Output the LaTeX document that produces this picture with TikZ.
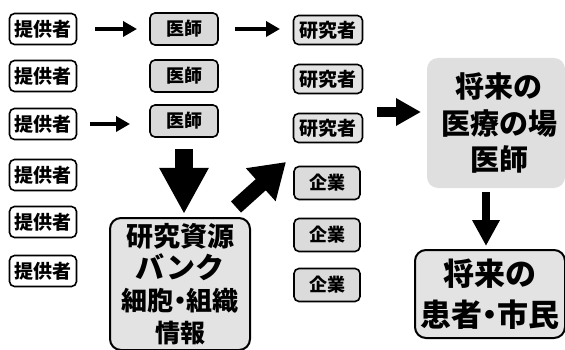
\documentclass[tikz,border=0pt]{standalone}
\usepackage{fontspec}
\setmainfont{Noto Sans CJK JP}
\usetikzlibrary{arrows.meta}
\newcommand{\ndot}{\kern-0.25em・\kern-0.25em}
\tikzset{
  x=1pt, y=-1pt,
  smallbox/.style={draw=black, line width=1.6pt, rounded corners=5pt, inner sep=0pt, font=\bfseries\fontsize{19}{19}\selectfont},
  giver/.style={smallbox, fill=white, minimum width=67pt, minimum height=31pt},
  doc/.style={smallbox, fill=gray!30, minimum width=68pt, minimum height=32pt, font=\bfseries\fontsize{18}{18}\selectfont},
  res/.style={smallbox, fill=gray!22, minimum width=69pt, minimum height=29pt},
  comp/.style={smallbox, fill=gray!28, minimum width=66pt, minimum height=33pt, font=\bfseries\fontsize{18}{18}\selectfont},
  bigbox/.style={draw=black, line width=2pt, rounded corners=11pt, fill=gray!22, inner sep=0pt, align=center},
  thin/.style={line width=3.5pt, -{Triangle[length=14pt,width=15pt]}},
}
\begin{document}
\begin{tikzpicture}
\useasboundingbox (0,0) rectangle (565,350);
% providers
\foreach \i/\y in {1/29,2/76,3/124,4/175,5/222,6/271}
  \node[giver] (p\i) at (43,\y) {提供者};
% doctors
\foreach \i/\y in {1/29,2/76,3/121}
  \node[doc] (d\i) at (184,\y) {医師};
% researchers
\foreach \i/\y in {1/30,2/79,3/128}
  \node[res] (r\i) at (328,\y) {研究者};
% companies
\foreach \i/\y in {1/183,2/235,3/285}
  \node[comp] (c\i) at (327,\y) {企業};
% bank
\node[bigbox, minimum width=140pt, minimum height=132pt, font=\bfseries\fontsize{27}{32}\selectfont] (bank) at (180,284)
  {研究資源\\{\fontsize{29}{32}\selectfont バンク}\\{\fontsize{26}{32}\selectfont 細胞\ndot 組織}\\{\fontsize{25}{32}\selectfont 情報}};
% future medical place
\node[bigbox, draw=none, fill=gray!25, minimum width=138pt, minimum height=130pt, font=\bfseries\fontsize{29}{36.5}\selectfont] (fut) at (496,123)
  {\hspace*{6pt}将来の\\\hspace*{6pt}医療の場\\\hspace*{6pt}医師};
% patients
\node[bigbox, minimum width=150pt, minimum height=88pt, font=\bfseries\fontsize{31}{42}\selectfont] (pat) at (490,294)
  {\raisebox{-5pt}{将来の}\\\raisebox{-4pt}{患者\ndot 市民}};
% connectors
\coordinate (a1s) at (95,29);  \coordinate (a1e) at (137,29);
\coordinate (a2s) at (90,124); \coordinate (a2e) at (130,124);
\coordinate (a3s) at (235,29); \coordinate (a3e) at (280,29);
\draw[thin] (a1s) -- (a1e);
\draw[thin] (a2s) -- (a2e);
\draw[thin] (a3s) -- (a3e);
% big down arrow from doctors to bank
\coordinate (bd1) at (184,149); \coordinate (bd2) at (184,214);
\draw[line width=18pt, -{Triangle[length=46pt,width=46pt]}] (bd1) -- (bd2);
% diagonal arrow from bank to researchers/companies
\coordinate (dg1) at (236,207); \coordinate (dg2) at (286,162);
\draw[line width=15pt, -{Triangle[length=34pt,width=42pt]}] (dg1) -- (dg2);
% arrow to future box
\coordinate (rf1) at (377,112); \coordinate (rf2) at (421,112);
\draw[line width=10pt, -{Triangle[length=25pt,width=26pt]}] (rf1) -- (rf2);
% arrow from future box to patients
\coordinate (fd1) at (486,192); \coordinate (fd2) at (486,246);
\draw[line width=8pt, -{Triangle[length=26pt,width=26pt]}] (fd1) -- (fd2);
\end{tikzpicture}
\end{document}
